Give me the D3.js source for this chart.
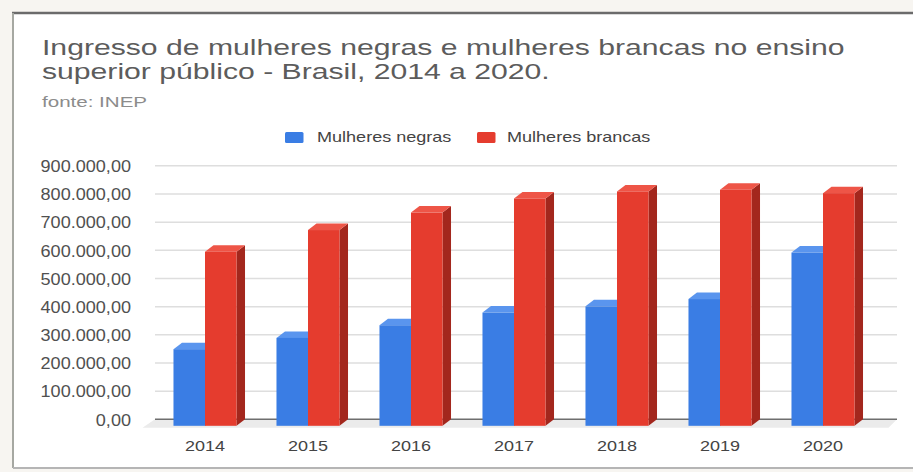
<!DOCTYPE html>
<html>
<head>
<meta charset="utf-8">
<script src="https://cdn.jsdelivr.net/npm/d3@7/dist/d3.min.js"></script>
<style>
  html, body { margin: 0; padding: 0; background: #f7f5f1; }
  svg { display: block; font-family: "Liberation Sans", Arial, sans-serif; }
</style>
</head>
<body>
<svg id="chart" width="913" height="472"></svg>
<script>
// Ingresso de mulheres no ensino superior público (INEP), 2014–2020
const years = ["2014", "2015", "2016", "2017", "2018", "2019", "2020"];
const mulheresNegras = [272000, 312000, 357000, 402000, 424000, 450000, 615000];
const mulheresBrancas = [618000, 695000, 757000, 807000, 832000, 838000, 826000];
const seriesNames = ["Mulheres negras", "Mulheres brancas"];
const yTicks = [0, 100000, 200000, 300000, 400000, 500000, 600000, 700000, 800000, 900000];
const titleLines = [
  "Ingresso de mulheres negras e mulheres brancas no ensino",
  "superior público - Brasil, 2014 a 2020."
];
const sourceText = "fonte: INEP";

const palette = {
  "Mulheres negras":  { front: "#3a7de4", top: "#5a95ee", side: "#2a5fb4" },
  "Mulheres brancas": { front: "#e53c2e", top: "#ee5547", side: "#a3271d" }
};

const svg = d3.select("#chart");
const W = 913, H = 472;

// card frame
svg.append("rect").attr("x", 13).attr("y", 13).attr("width", W - 13).attr("height", 455)
  .attr("fill", "#ffffff");
svg.append("line").attr("x1", 12).attr("x2", W).attr("y1", 13).attr("y2", 13)
  .attr("stroke", "#6b6b6b").attr("stroke-width", 2.5);
svg.append("line").attr("x1", 13).attr("x2", 13).attr("y1", 13).attr("y2", 468)
  .attr("stroke", "#a6a8a2").attr("stroke-width", 2);
svg.append("line").attr("x1", 13).attr("x2", W).attr("y1", 468).attr("y2", 468)
  .attr("stroke", "#b5b5b5").attr("stroke-width", 2);

// horizontally stretched text helper
function stretchedText(parent, x, y, sx, str, size, fill, anchor) {
  const g = parent.append("g").attr("transform", `translate(${x},${y}) scale(${sx},1)`);
  return g.append("text").attr("x", 0).attr("y", 0)
    .attr("font-size", size).attr("fill", fill)
    .attr("text-anchor", anchor || "start").text(str);
}

// title + source
titleLines.forEach((t, i) => stretchedText(svg, 42, 55 + i * 24, 1.34, t, 22.5, "#5c5c5c"));
stretchedText(svg, 42, 107, 1.37, sourceText, 15, "#8c8c8c");

// legend
const legendItems = [
  { name: seriesNames[0], box: 285, text: 317 },
  { name: seriesNames[1], box: 477, text: 507 }
];
legendItems.forEach(d => {
  svg.append("rect").attr("x", d.box).attr("y", 132).attr("width", 18.5).attr("height", 11)
    .attr("rx", 1.5).attr("fill", palette[d.name].front);
  stretchedText(svg, d.text, 141.5, 1.29, d.name, 14, "#444");
});

// scales
const y = d3.scaleLinear().domain([0, 900000]).range([419.3, 165.8]);
const x0 = d3.scaleBand().domain(years).range([153.5, 874.5])
  .paddingInner(0.388).paddingOuter(0.194);
const x1 = d3.scaleBand().domain(seriesNames).range([0, x0.bandwidth()]).padding(0);
const depthX = 8.5, depthY = 6.5;

const ptBR = d3.formatLocale({ decimal: ",", thousands: ".", grouping: [3], currency: ["R$", ""] });
const fmt = ptBR.format(",.2f");

// back-wall gridlines
const gridX0 = 155, gridX1 = 897;
svg.append("g").selectAll("line").data(yTicks.filter(t => t > 0)).join("line")
  .attr("x1", gridX0).attr("x2", gridX1)
  .attr("y1", d => y(d)).attr("y2", d => y(d))
  .attr("stroke", "#dedede").attr("stroke-width", 1.5);

// floor
svg.append("polygon")
  .attr("points", [
    [gridX0, y(0)], [gridX1, y(0)],
    [gridX1 - depthX, y(0) + depthY + 2], [gridX0 - depthX - 4, y(0) + depthY + 2]
  ].map(p => p.join(",")).join(" "))
  .attr("fill", "#ebebeb");
svg.append("line").attr("x1", gridX0).attr("x2", gridX1)
  .attr("y1", y(0)).attr("y2", y(0))
  .attr("stroke", "#6e6e6e").attr("stroke-width", 1.6);

// y axis
const yAxis = svg.append("g").attr("transform", "translate(131,0)")
  .call(d3.axisLeft(y).tickValues(yTicks).tickFormat(fmt).tickSize(0).tickPadding(0));
yAxis.select(".domain").remove();
yAxis.selectAll("text")
  .attr("x", 0).attr("dy", "0.36em")
  .attr("transform", "scale(1.13,1)")
  .attr("font-family", "Liberation Sans, Arial, sans-serif")
  .attr("font-size", 16).attr("fill", "#505050");

// x axis
const xAxis = svg.append("g").attr("transform", "translate(0,451)")
  .call(d3.axisBottom(x0).tickSize(0).tickPadding(0));
xAxis.select(".domain").remove();
xAxis.selectAll("text")
  .attr("y", 0).attr("dy", 0)
  .attr("transform", "scale(1.2,1)")
  .attr("font-family", "Liberation Sans, Arial, sans-serif")
  .attr("font-size", 15).attr("fill", "#444");

// 3D columns
const rows = years.map((yr, i) => ({
  year: yr,
  values: [
    { key: seriesNames[0], value: mulheresNegras[i] },
    { key: seriesNames[1], value: mulheresBrancas[i] }
  ]
}));

const barW = x1.bandwidth();
const groups = svg.append("g").selectAll("g").data(rows).join("g")
  .attr("transform", d => `translate(${x0(d.year)},0)`);

groups.each(function (row) {
  const g = d3.select(this);
  row.values.forEach(v => {
    const c = palette[v.key];
    const xl = x1(v.key), xr = xl + barW;
    const yt = y(v.value) + depthY, yb = y(0) + depthY;
    // right side
    g.append("polygon")
      .attr("points", [[xr, yt], [xr + depthX, yt - depthY], [xr + depthX, yb - depthY], [xr, yb]]
        .map(p => p.join(",")).join(" "))
      .attr("fill", c.side);
    // top
    g.append("polygon")
      .attr("points", [[xl, yt], [xl + depthX, yt - depthY], [xr + depthX, yt - depthY], [xr, yt]]
        .map(p => p.join(",")).join(" "))
      .attr("fill", c.top);
    // front
    g.append("rect").attr("x", xl).attr("y", yt)
      .attr("width", barW).attr("height", yb - yt)
      .attr("fill", c.front);
  });
});
</script>
</body>
</html>
